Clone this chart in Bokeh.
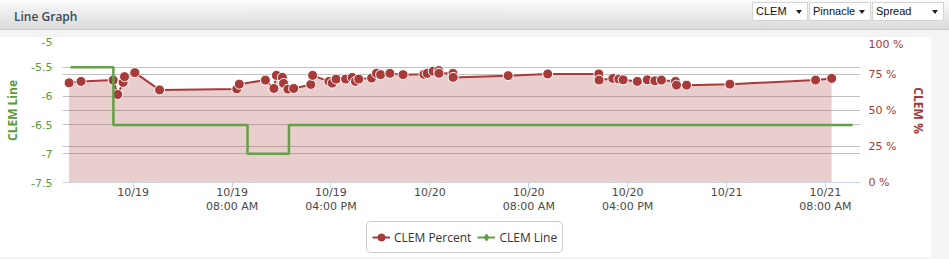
import pandas as pd
from bokeh.plotting import figure
from bokeh.models import (Range1d, LinearAxis, FixedTicker, Grid, Legend, LegendItem,
                          ColumnDataSource, Div)
from bokeh.layouts import column, row
from bokeh.embed import file_html
from bokeh.resources import INLINE

# ---------------- data ----------------
title_text = "Line Graph"
dropdown_labels = ["CLEM", "Pinnacle", "Spread"]

pct_times = [
    "2016-10-18 18:49", "2016-10-18 19:47", "2016-10-18 22:23", "2016-10-18 22:45",
    "2016-10-18 23:11", "2016-10-18 23:18", "2016-10-19 00:08", "2016-10-19 02:08",
    "2016-10-19 08:23", "2016-10-19 08:35", "2016-10-19 10:42", "2016-10-19 11:23",
    "2016-10-19 11:35", "2016-10-19 12:04", "2016-10-19 12:10", "2016-10-19 12:31",
    "2016-10-19 12:59", "2016-10-19 14:22", "2016-10-19 14:31", "2016-10-19 15:50",
    "2016-10-19 16:06", "2016-10-19 16:25", "2016-10-19 17:11", "2016-10-19 17:43",
    "2016-10-19 17:59", "2016-10-19 18:15", "2016-10-19 19:17", "2016-10-19 19:41",
    "2016-10-19 20:01", "2016-10-19 20:46", "2016-10-19 21:50", "2016-10-19 23:31",
    "2016-10-19 23:47", "2016-10-20 00:16", "2016-10-20 00:43", "2016-10-20 00:44",
    "2016-10-20 01:52", "2016-10-20 01:53", "2016-10-20 06:20", "2016-10-20 09:32",
    "2016-10-20 13:40", "2016-10-20 13:41", "2016-10-20 14:48", "2016-10-20 15:17",
    "2016-10-20 15:38", "2016-10-20 16:47", "2016-10-20 17:35", "2016-10-20 18:12",
    "2016-10-20 18:44", "2016-10-20 19:52", "2016-10-20 19:57", "2016-10-20 20:46",
    "2016-10-21 00:16", "2016-10-21 07:12", "2016-10-21 08:30",
]
pct_values = [
    69.2, 70.2, 71.1, 61.1, 69.5, 73.5, 76.3, 64.3,
    65.0, 68.3, 71.1, 65.3, 74.4, 73.0, 68.8, 64.8,
    65.3, 68.1, 74.4, 70.2, 69.0, 71.8, 71.8, 73.0,
    70.2, 71.8, 72.5, 75.8, 74.9, 75.8, 74.9, 75.1,
    75.8, 77.3, 77.7, 75.8, 75.8, 73.0, 74.2, 75.4,
    75.4, 71.1, 72.3, 71.8, 71.3, 70.2, 71.3, 70.6,
    71.1, 70.2, 67.6, 67.6, 68.3, 71.1, 72.3,
]

line_times = ["2016-10-18 18:56", "2016-10-18 22:24", "2016-10-19 09:15",
              "2016-10-19 12:36", "2016-10-21 10:12"]
line_values = [-5.5, -6.5, -7.0, -6.5, -6.5]

x_start = "2016-10-18 18:17"
x_end = "2016-10-21 10:50"
x_tick_times = ["2016-10-19 00:00", "2016-10-19 08:00", "2016-10-19 16:00",
                "2016-10-20 00:00", "2016-10-20 08:00", "2016-10-20 16:00",
                "2016-10-21 00:00", "2016-10-21 08:00"]
x_tick_labels = ["10/19", "10/19\n08:00 AM", "10/19\n04:00 PM",
                 "10/20", "10/20\n08:00 AM", "10/20\n04:00 PM",
                 "10/21", "10/21\n08:00 AM"]

left_ticks = [-7.5, -7.0, -6.5, -6.0, -5.5, -5.0]
left_tick_labels = ["-7.5", "-7", "-6.5", "-6", "-5.5", "-5"]
right_ticks = [0, 25, 50, 75, 100]
right_tick_labels = ["0 %", "25 %", "50 %", "75 %", "100 %"]

series_names = ["CLEM Percent", "CLEM Line"]
left_axis_title = "CLEM Line"
right_axis_title = "CLEM %"

# ---------------- styles ----------------
RED = "#a93a3a"
GREEN = "#64a048"
GREEN_TXT = "#5c9a36"
RED_TXT = "#a03a3a"
GRID = "#c2c2c2"
AXIS = "#c8d4e6"

pct_src = ColumnDataSource(dict(t=pd.to_datetime(pct_times), v=pct_values))
line_src = ColumnDataSource(dict(t=pd.to_datetime(line_times), v=line_values))

p = figure(width=931, height=183, x_axis_type="datetime",
           x_range=Range1d(pd.Timestamp(x_start), pd.Timestamp(x_end)),
           y_range=Range1d(-7.5, -5.0),
           output_backend="svg", toolbar_location=None,
           min_border_left=62, min_border_right=71, min_border_top=1, min_border_bottom=38)
p.title.visible = False
p.margin = 0
p.outline_line_color = None
p.background_fill_color = "white"
p.border_fill_color = "white"
p.extra_y_ranges = {"pct": Range1d(0, 100)}

# x axis
xa = p.xaxis[0]
tick_ms = [int(pd.Timestamp(t).value // 10**6) for t in x_tick_times]
xa.ticker = FixedTicker(ticks=tick_ms)
xa.major_label_overrides = {ms: lab for ms, lab in zip(tick_ms, x_tick_labels)}
xa.axis_line_color = AXIS
xa.major_tick_line_color = AXIS
xa.major_tick_out = 5
xa.major_tick_in = 0
xa.minor_tick_out = 0
xa.minor_tick_in = 0
xa.minor_tick_line_color = None
xa.major_label_standoff = -2
xa.major_label_text_line_height = 1.1
xa.major_label_text_font = "DejaVu Sans"
xa.major_label_text_font_size = "11px"
xa.major_label_text_color = "#4a4a4a"
p.xgrid.visible = False

# left axis
ya = p.yaxis[0]
ya.ticker = FixedTicker(ticks=left_ticks)
ya.major_label_overrides = {v: lab for v, lab in zip(left_ticks, left_tick_labels)}
ya.axis_line_color = None
ya.major_tick_line_color = None
ya.minor_tick_line_color = None
ya.major_tick_out = 0
ya.major_tick_in = 0
ya.minor_tick_out = 0
ya.minor_tick_in = 0
ya.major_label_standoff = 10
ya.major_label_text_font = "DejaVu Sans"
ya.major_label_text_font_size = "11px"
ya.major_label_text_color = GREEN_TXT
ya.axis_label = left_axis_title
ya.axis_label_text_font = "Open Sans"
ya.axis_label_text_font_size = "12px"
ya.axis_label_text_font_style = "bold"
ya.axis_label_text_color = GREEN_TXT
ya.axis_label_standoff = 7
p.ygrid.ticker = FixedTicker(ticks=left_ticks)
p.ygrid.grid_line_color = GRID

# right axis
ra = LinearAxis(y_range_name="pct", ticker=FixedTicker(ticks=right_ticks))
ra.major_label_overrides = {v: lab for v, lab in zip(right_ticks, right_tick_labels)}
ra.axis_line_color = None
ra.major_tick_line_color = None
ra.minor_tick_line_color = None
ra.major_tick_out = 0
ra.major_tick_in = 0
ra.minor_tick_out = 0
ra.minor_tick_in = 0
ra.major_label_standoff = 8
ra.major_label_text_font = "DejaVu Sans"
ra.major_label_text_font_size = "11px"
ra.major_label_text_color = RED_TXT
ra.axis_label = right_axis_title
ra.axis_label_text_font = "Open Sans"
ra.axis_label_text_font_size = "12px"
ra.axis_label_text_font_style = "bold"
ra.axis_label_text_color = RED_TXT
ra.axis_label_standoff = 4
p.add_layout(ra, "right")
rgrid = Grid(dimension=1, ticker=FixedTicker(ticks=right_ticks), y_range_name="pct",
             grid_line_color=GRID)
p.add_layout(rgrid)

# series
p.varea(x="t", y1=0, y2="v", source=pct_src, y_range_name="pct",
        fill_color=RED, fill_alpha=0.25)
p.line(x="t", y="v", source=pct_src, y_range_name="pct",
       line_color=RED, line_width=2, line_join="round")
p.scatter(x="t", y="v", source=pct_src, y_range_name="pct", marker="circle",
          size=10, fill_color=RED, line_color="white", line_width=1)
p.step(x="t", y="v", source=line_src, mode="after", line_color=GREEN, line_width=2.5)

# ---------------- legend strip (own small figure) ----------------
lf = figure(width=931, height=37, x_range=Range1d(0, 1), y_range=Range1d(0, 1),
            x_axis_location=None, y_axis_location=None,
            output_backend="svg", toolbar_location=None,
            min_border=0, min_border_left=0, min_border_right=0,
            min_border_top=0, min_border_bottom=0)
lf.title.visible = False
lf.margin = 0
lf.grid.visible = False
lf.outline_line_color = None
lf.background_fill_color = "white"
lf.border_fill_color = "white"
# key glyphs: placed outside the visible range so only the legend shows them
k_red_line = lf.line(x=[-5, -4], y=[-5, -5], line_color=RED, line_width=2)
k_red_pt = lf.scatter(x=[-5], y=[-5], marker="circle", fill_color=RED, line_color=RED)
k_green_line = lf.line(x=[-5, -4], y=[-5, -5], line_color=GREEN, line_width=2)
k_green_pt = lf.scatter(x=[-5], y=[-5], marker="diamond", fill_color=GREEN, line_color=GREEN)

legend = Legend(items=[LegendItem(label=series_names[0], renderers=[k_red_line, k_red_pt]),
                       LegendItem(label=series_names[1], renderers=[k_green_line, k_green_pt])],
                location=(304, 4), orientation="horizontal",
                margin=0, padding=5, spacing=6, label_standoff=4,
                glyph_width=18, glyph_height=20, label_height=20,
                label_text_font="Open Sans", label_text_font_size="12px",
                label_text_color="#333333",
                border_line_color="#9a9a9a", border_line_width=1,
                background_fill_color="white", background_fill_alpha=1.0)
try:
    legend.border_radius = 5
except Exception:
    pass
lf.add_layout(legend, "center")

# ---------------- header / frame ----------------
box_specs = [(752, 56), (809, 62), (872, 72)]
boxes = ""
for lab, (l, w) in zip(dropdown_labels, box_specs):
    boxes += (
        f'<div style="position:absolute;left:{l}px;top:2px;width:{w}px;height:19px;'
        f'background:#fff;border:1px solid #d4d4d4;box-sizing:border-box;'
        f'font-family:\'Liberation Sans\';font-size:11px;color:#111;line-height:17px;'
        f'padding-left:3px;">{lab}'
        f'<span style="position:absolute;right:5px;top:7px;width:0;height:0;'
        f'border-left:3.5px solid transparent;border-right:3.5px solid transparent;'
        f'border-top:4px solid #222;"></span></div>'
    )
header_html = (
    '<div style="position:relative;width:949px;height:37px;background:#f4f4f4;overflow:hidden;">'
    '<div style="position:absolute;left:0;top:0;width:949px;height:30px;'
    'background:linear-gradient(#fbfbfb,#dadada);border-bottom:1px solid #cdcdcd;"></div>'
    '<div style="position:absolute;left:14px;top:8px;font-family:\'Open Sans\';font-size:12px;'
    f'font-weight:600;color:#3c4a5a;">{title_text}</div>'
    + boxes + '</div>'
)
header = Div(text=header_html, width=949, height=37, margin=0)
side = Div(text="", width=18, height=220, margin=0, styles={"background-color": "#f4f4f4"})
bottom = Div(text="", width=949, height=2, margin=0, styles={"background-color": "#f4f4f4"})

layout = column(header, row(column(p, lf, spacing=0), side, spacing=0), bottom, spacing=0)

open("out.html", "w").write(file_html(layout, INLINE))
